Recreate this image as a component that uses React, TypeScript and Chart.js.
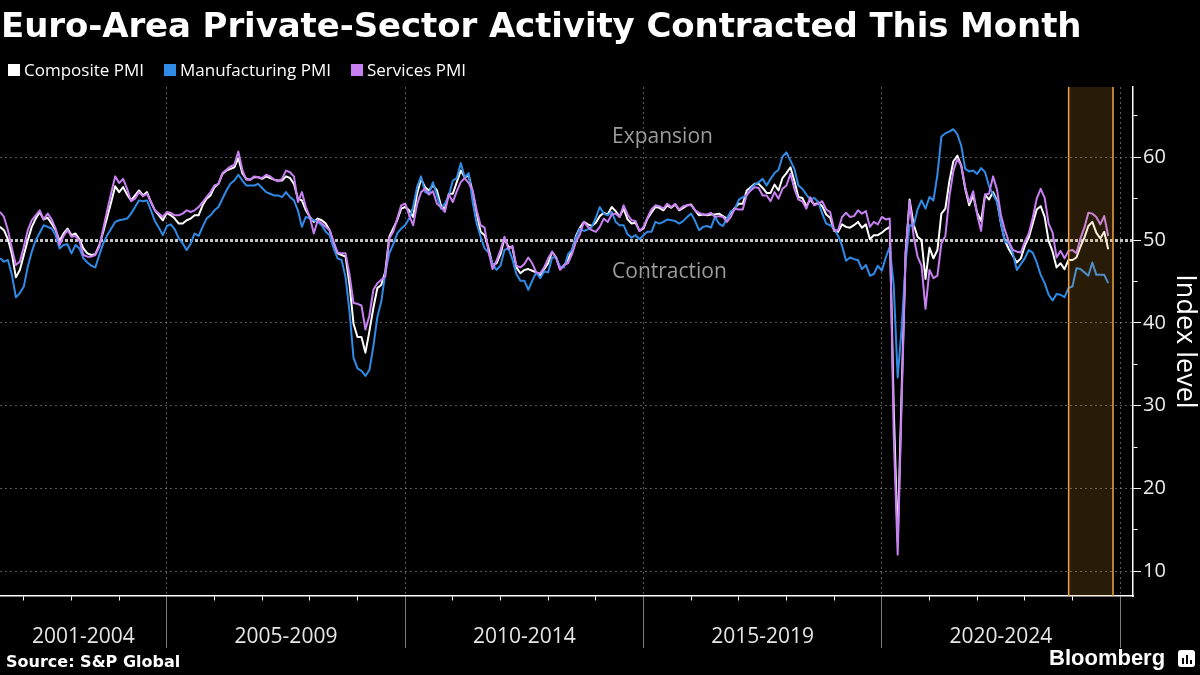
import React, { useEffect, useRef } from "react";
import { Chart, registerables } from "chart.js";

Chart.register(...registerables);

// Monthly (month-end) observations, June 2001 – September 2024
const FIRST_YEAR = 2001;
const FIRST_MONTH = 6;

const compositePMI: number[] = [
  /* 2001 Jun-Dec */ 51.6, 51.2, 50.1, 48.3, 45.5, 46.4, 48.2,
  /* 2002 */ 50.0, 51.6, 52.6, 53.4, 52.5, 52.7, 52.0, 51.2, 49.9, 50.8, 51.4, 50.6,
  /* 2003 */ 50.8, 50.1, 49.0, 48.4, 48.2, 48.3, 49.4, 51.0, 52.8, 54.6, 56.5, 55.8,
  /* 2004 */ 56.4, 55.5, 54.8, 55.4, 56.0, 55.4, 55.8, 54.6, 53.6, 53.0, 52.4, 53.3,
  /* 2005 */ 53.0, 52.6, 52.0, 52.0, 52.4, 52.6, 53.0, 53.0, 54.2, 55.0, 55.4, 56.4,
  /* 2006 */ 56.8, 58.0, 58.4, 58.6, 58.8, 59.9, 58.1, 57.4, 57.3, 57.6, 57.6, 57.4,
  /* 2007 */ 57.7, 57.5, 57.3, 57.2, 57.2, 57.7, 57.5, 56.8, 55.0, 54.8, 53.6, 52.8,
  /* 2008 */ 52.2, 52.6, 52.4, 52.0, 51.2, 49.6, 48.4, 48.2, 48.0, 44.6, 39.9, 38.3,
  /* 2009 */ 38.3, 36.4, 39.0, 41.8, 44.2, 44.6, 46.2, 50.4, 51.4, 52.4, 53.8, 54.0,
  /* 2010 */ 53.6, 52.8, 55.6, 57.4, 56.4, 56.0, 56.6, 56.0, 54.2, 53.8, 55.6, 55.6,
  /* 2011 */ 57.0, 58.4, 57.6, 57.8, 55.8, 53.2, 51.0, 50.6, 49.0, 47.0, 47.2, 48.3,
  /* 2012 */ 50.2, 49.2, 49.1, 46.7, 46.0, 46.4, 46.5, 46.3, 46.1, 45.7, 46.5, 47.2,
  /* 2013 */ 48.6, 47.9, 46.5, 46.9, 47.7, 48.7, 50.5, 51.5, 52.2, 51.9, 51.7, 52.1,
  /* 2014 */ 52.9, 53.3, 53.1, 54.0, 53.5, 52.8, 53.8, 52.5, 52.0, 52.1, 51.1, 51.4,
  /* 2015 */ 52.6, 53.3, 54.0, 53.9, 53.6, 54.2, 53.9, 54.3, 53.6, 53.9, 54.2, 54.3,
  /* 2016 */ 53.6, 53.0, 53.1, 53.0, 53.1, 53.1, 53.2, 52.9, 52.6, 53.3, 53.9, 54.4,
  /* 2017 */ 54.4, 56.0, 56.4, 56.8, 56.8, 56.3, 55.7, 55.7, 56.7, 56.0, 57.5, 58.1,
  /* 2018 */ 58.8, 57.1, 55.2, 55.1, 54.1, 54.9, 54.3, 54.5, 54.1, 53.1, 52.7, 51.1,
  /* 2019 */ 51.0, 51.9, 51.6, 51.5, 51.8, 52.2, 51.5, 51.9, 50.1, 50.6, 50.6, 50.9,
  /* 2020 */ 51.3, 51.6, 29.7, 13.6, 31.9, 48.5, 54.9, 51.9, 50.4, 50.0, 45.3, 49.1,
  /* 2021 */ 47.8, 48.8, 53.2, 53.8, 57.1, 59.5, 60.2, 59.0, 56.2, 54.2, 55.4, 53.3,
  /* 2022 */ 52.3, 55.5, 54.9, 55.8, 54.8, 52.0, 49.9, 48.9, 48.1, 47.3, 47.8, 49.3,
  /* 2023 */ 50.3, 52.0, 53.7, 54.1, 52.8, 49.9, 48.6, 46.7, 47.2, 46.5, 47.6, 47.6,
  /* 2024 Jan-Sep */ 47.9, 49.2, 50.3, 51.7, 52.2, 50.9, 50.2, 51.0, 48.9,
];

const manufacturingPMI: number[] = [
  /* 2001 Jun-Dec */ 47.8, 47.4, 47.6, 45.8, 43.1, 43.6, 44.4,
  /* 2002 */ 46.8, 48.6, 50.0, 50.9, 51.8, 51.6, 51.4, 50.6, 49.0, 49.4, 49.5, 48.4,
  /* 2003 */ 49.4, 49.0, 47.8, 47.3, 46.9, 46.7, 48.2, 49.6, 50.6, 51.4, 52.2, 52.4,
  /* 2004 */ 52.5, 52.6, 53.2, 54.0, 54.8, 54.7, 54.8, 53.6, 52.3, 51.5, 50.6, 51.7,
  /* 2005 */ 51.9, 51.3, 50.2, 49.6, 48.8, 49.6, 50.8, 50.5, 51.6, 52.6, 53.0, 53.6,
  /* 2006 */ 54.0, 55.0, 56.0, 56.8, 57.2, 57.9, 57.2, 56.6, 56.6, 56.6, 56.8, 56.3,
  /* 2007 */ 55.8, 55.6, 55.4, 55.4, 55.2, 55.8, 55.2, 54.8, 53.6, 51.6, 52.8, 52.6,
  /* 2008 */ 52.4, 52.2, 51.8, 51.0, 50.6, 49.0, 47.8, 47.6, 45.5, 41.3, 35.8, 34.5,
  /* 2009 */ 34.2, 33.6, 34.3, 37.2, 40.7, 42.6, 46.0, 48.4, 49.5, 50.8, 51.4, 51.8,
  /* 2010 */ 52.6, 54.0, 56.4, 57.7, 55.8, 55.6, 57.0, 55.4, 53.8, 54.4, 55.4, 57.2,
  /* 2011 */ 57.5, 59.3, 57.6, 58.1, 54.6, 52.0, 50.4, 49.0, 48.5, 47.1, 46.4, 46.9,
  /* 2012 */ 48.8, 49.0, 47.7, 45.9, 45.1, 45.1, 44.0, 45.1, 46.1, 45.4, 46.2, 46.1,
  /* 2013 */ 47.9, 47.9, 46.8, 46.7, 48.3, 48.8, 50.3, 51.4, 51.1, 51.3, 51.6, 52.7,
  /* 2014 */ 54.0, 53.2, 53.0, 53.4, 52.2, 51.8, 51.8, 50.7, 50.3, 50.6, 50.1, 50.6,
  /* 2015 */ 51.0, 51.0, 52.2, 52.0, 52.2, 52.5, 52.4, 52.3, 52.0, 52.3, 52.8, 53.2,
  /* 2016 */ 52.3, 51.2, 51.6, 51.7, 51.5, 52.8, 52.0, 51.7, 52.6, 53.5, 53.7, 54.9,
  /* 2017 */ 55.2, 55.4, 56.2, 56.7, 57.0, 57.4, 56.6, 57.4, 58.1, 58.5, 60.1, 60.6,
  /* 2018 */ 59.6, 58.6, 56.6, 56.2, 55.5, 54.9, 55.1, 54.6, 53.2, 52.0, 51.8, 51.4,
  /* 2019 */ 50.5, 49.3, 47.5, 47.9, 47.7, 47.6, 46.5, 47.0, 45.7, 45.9, 46.9, 46.3,
  /* 2020 */ 47.9, 49.2, 44.5, 33.4, 39.4, 47.4, 51.8, 51.7, 53.7, 54.8, 53.8, 55.2,
  /* 2021 */ 54.8, 57.9, 62.5, 62.9, 63.1, 63.4, 62.8, 61.4, 58.6, 58.3, 58.4, 58.0,
  /* 2022 */ 58.7, 58.2, 56.5, 55.5, 54.6, 52.1, 49.8, 49.6, 48.4, 46.4, 47.1, 47.8,
  /* 2023 */ 48.8, 48.5, 47.3, 45.8, 44.8, 43.4, 42.7, 43.5, 43.4, 43.1, 44.2, 44.4,
  /* 2024 Jan-Sep */ 46.6, 46.5, 46.1, 45.7, 47.3, 45.8, 45.8, 45.8, 44.8,
];

const servicesPMI: number[] = [
  /* 2001 Jun-Dec */ 53.4, 52.8, 51.2, 49.0, 47.0, 47.4, 49.2,
  /* 2002 */ 51.2, 52.4, 53.0, 53.6, 52.5, 53.2, 52.5, 51.4, 49.4, 50.5, 51.2, 50.4,
  /* 2003 */ 50.5, 49.9, 48.2, 48.0, 48.0, 48.2, 49.2, 51.4, 53.6, 55.7, 57.7, 56.9,
  /* 2004 */ 57.4, 56.2, 54.7, 55.0, 55.8, 55.3, 55.6, 54.6, 53.6, 53.2, 52.8, 53.4,
  /* 2005 */ 53.3, 53.0, 53.0, 53.2, 53.6, 53.4, 53.6, 54.0, 54.6, 55.2, 55.8, 56.6,
  /* 2006 */ 56.8, 58.1, 58.5, 58.9, 59.1, 60.7, 58.5, 57.3, 57.3, 57.7, 57.6, 57.5,
  /* 2007 */ 57.9, 57.7, 57.3, 57.1, 57.4, 58.4, 58.2, 57.7, 54.6, 55.8, 54.0, 52.8,
  /* 2008 */ 50.8, 52.4, 52.0, 51.6, 51.2, 49.8, 48.5, 48.4, 48.4, 45.8, 42.4, 42.3,
  /* 2009 */ 42.1, 39.2, 40.9, 44.0, 44.8, 45.2, 45.6, 50.2, 51.0, 52.6, 54.2, 54.4,
  /* 2010 */ 53.0, 51.8, 54.3, 55.8, 56.2, 55.5, 55.9, 54.4, 54.0, 53.4, 55.5, 54.6,
  /* 2011 */ 55.9, 57.0, 57.5, 56.9, 56.0, 53.6, 51.8, 51.5, 48.6, 46.5, 47.5, 48.8,
  /* 2012 */ 50.4, 48.9, 49.3, 46.9, 46.7, 47.1, 47.9, 47.2, 46.1, 46.0, 46.7, 47.8,
  /* 2013 */ 48.6, 47.9, 46.4, 47.0, 47.2, 48.3, 49.8, 50.7, 52.2, 51.6, 51.2, 51.0,
  /* 2014 */ 51.6, 52.6, 52.2, 53.1, 53.2, 52.8, 54.2, 53.1, 52.4, 52.3, 51.1, 51.6,
  /* 2015 */ 52.7, 53.7, 54.2, 54.1, 53.8, 54.4, 54.0, 54.4, 53.7, 54.1, 54.2, 54.2,
  /* 2016 */ 53.6, 53.3, 53.1, 53.1, 53.3, 52.8, 52.9, 52.8, 52.2, 52.8, 53.8, 53.7,
  /* 2017 */ 53.7, 55.5, 56.0, 56.4, 56.3, 55.4, 55.4, 54.7, 55.8, 55.0, 56.2, 56.6,
  /* 2018 */ 58.0, 56.2, 54.9, 54.7, 53.8, 55.2, 54.2, 54.4, 54.7, 53.7, 53.4, 51.2,
  /* 2019 */ 51.2, 52.8, 53.3, 52.8, 52.9, 53.6, 53.2, 53.5, 51.6, 52.2, 51.9, 52.8,
  /* 2020 */ 52.5, 52.6, 26.4, 12.0, 30.5, 48.3, 54.7, 50.5, 48.0, 46.9, 41.7, 46.4,
  /* 2021 */ 45.4, 45.7, 49.6, 50.5, 55.2, 58.3, 59.8, 59.0, 56.4, 54.6, 55.9, 53.1,
  /* 2022 */ 51.1, 55.5, 55.6, 57.7, 56.1, 53.0, 51.2, 49.8, 48.8, 48.6, 48.5, 49.8,
  /* 2023 */ 50.8, 52.7, 55.0, 56.2, 55.1, 52.0, 50.9, 47.9, 48.7, 47.8, 48.7, 48.8,
  /* 2024 Jan-Sep */ 48.4, 50.2, 51.5, 53.3, 53.2, 52.8, 51.9, 52.9, 50.5,
];

const seriesNames = ["Composite PMI", "Manufacturing PMI", "Services PMI"];
const seriesColors = ["#ffffff", "#2f8be6", "#c77ff2"];

const periodLabels = ["2001-2004", "2005-2009", "2010-2014", "2015-2019", "2020-2024"];
const periodStarts = [2001.5, 2005, 2010, 2015, 2020];
const periodEnds = [2005, 2010, 2015, 2020, 2025];
const yearTicks = [
  2002, 2003, 2004, 2005, 2006, 2007, 2008, 2009, 2010, 2011, 2012, 2013,
  2014, 2015, 2016, 2017, 2018, 2019, 2020, 2021, 2022, 2023, 2024, 2025,
];
const yTickValues = [10, 15, 20, 25, 30, 35, 40, 45, 50, 55, 60, 65];
const highlightRange = [2023.92, 2024.85];
const zoneLabels = [
  { text: "Expansion", x: 2014.34, y: 62.45 },
  { text: "Contraction", x: 2014.34, y: 46.15 },
];

const X_MIN = 2001.5;
const X_MAX = 2025.27;
const Y_MIN = 7;
const Y_MAX = 68.5;

const near = (a: number, b: number) => Math.abs(a - b) < 1e-6;
const labelCenters = periodStarts.map((s, k) => (s + periodEnds[k]) / 2);
const isBound = (v: number) => periodEnds.some((b) => near(b, v));
const isYear = (v: number) => yearTicks.some((b) => near(b, v));

export default function App() {
  const canvasRef = useRef<HTMLCanvasElement | null>(null);

  useEffect(() => {
    const canvas = canvasRef.current;
    if (!canvas) return;

    const toPoints = (vals: number[]) =>
      vals.map((v, i) => ({ x: FIRST_YEAR + (FIRST_MONTH + i) / 12, y: v }));

    const allSeries = [compositePMI, manufacturingPMI, servicesPMI];
    const datasets = allSeries.map((vals, k) => ({
      label: seriesNames[k],
      data: toPoints(vals),
      borderColor: seriesColors[k],
      backgroundColor: seriesColors[k],
      borderWidth: 2,
      pointRadius: 0,
      tension: 0,
      borderJoinStyle: "round" as const,
      order: 3 - k,
    }));

    const overlayPlugin = {
      id: "overlay",
      afterDatasetsDraw(chart: any) {
        const { ctx, chartArea, scales } = chart;
        const xs = scales.x;
        const ys = scales.y;
        const l = xs.getPixelForValue(highlightRange[0]);
        const r = xs.getPixelForValue(highlightRange[1]);
        ctx.save();
        ctx.fillStyle = "rgba(240,160,50,0.17)";
        ctx.fillRect(l, chartArea.top, r - l, chartArea.bottom - chartArea.top);
        ctx.strokeStyle = "#f0a440";
        ctx.lineWidth = 1.5;
        ctx.beginPath();
        ctx.moveTo(l, chartArea.top);
        ctx.lineTo(l, chartArea.bottom);
        ctx.moveTo(r, chartArea.top);
        ctx.lineTo(r, chartArea.bottom);
        ctx.stroke();
        ctx.fillStyle = "#9c9c9c";
        ctx.font = '21px "Open Sans"';
        ctx.textAlign = "left";
        ctx.textBaseline = "middle";
        zoneLabels.forEach((z) => {
          ctx.fillText(z.text, xs.getPixelForValue(z.x), ys.getPixelForValue(z.y));
        });
        ctx.restore();
      },
    };

    const xTickValues = [...yearTicks, ...labelCenters].sort((a, b) => a - b);

    const chart = new Chart(canvas, {
      type: "line",
      data: { datasets },
      plugins: [overlayPlugin],
      options: {
        animation: false,
        responsive: false,
        events: [],
        layout: { padding: { top: 87, left: 0, right: 0, bottom: 0 } },
        plugins: {
          legend: { display: false },
          tooltip: { enabled: false },
        },
        scales: {
          x: {
            type: "linear",
            position: "bottom",
            min: X_MIN,
            max: X_MAX,
            afterBuildTicks: (scale: any) => {
              scale.ticks = xTickValues.map((v) => ({ value: v }));
            },
            afterFit: (scale: any) => {
              scale.height = 79;
            },
            ticks: {
              autoSkip: false,
              maxRotation: 0,
              minRotation: 0,
              padding: -24,
              color: "#e6e6e6",
              font: { family: "Open Sans", size: 21 },
              callback: (value: any) => {
                const k = labelCenters.findIndex((c) => near(c, Number(value)));
                return k >= 0 ? periodLabels[k] : "";
              },
            },
            grid: {
              drawOnChartArea: true,
              drawTicks: true,
              tickLength: 52,
              lineWidth: 1,
              tickWidth: 1,
              color: (ctx: any) =>
                ctx.tick && isBound(ctx.tick.value) ? "rgba(200,200,200,0.45)" : "rgba(0,0,0,0)",
              tickColor: (ctx: any) => {
                if (!ctx.tick) return "rgba(0,0,0,0)";
                const v = ctx.tick.value;
                if (isBound(v)) return "#7c7c7c";
                if (isYear(v)) return "#ffffff";
                return "rgba(0,0,0,0)";
              },
              tickBorderDash: (ctx: any) =>
                ctx.tick && isBound(ctx.tick.value) ? [] : [4, 200],
            },
            border: { display: true, color: "#ffffff", width: 1.5, dash: [2, 3] },
          },
          y: {
            type: "linear",
            position: "right",
            min: Y_MIN,
            max: Y_MAX,
            afterBuildTicks: (scale: any) => {
              scale.ticks = yTickValues.map((v) => ({ value: v }));
            },
            afterFit: (scale: any) => {
              scale.width = 67;
            },
            ticks: {
              padding: 2,
              color: "#ececec",
              font: { family: "Open Sans", size: 20 },
              callback: (value: any) => (Number(value) % 10 === 0 ? String(value) : ""),
            },
            grid: {
              tickLength: 8,
              tickWidth: 1,
              tickColor: "#ffffff",
              color: (ctx: any) => {
                if (!ctx.tick) return "rgba(0,0,0,0)";
                const v = ctx.tick.value;
                if (v === 50) return "rgba(205,205,205,0.95)";
                if (v % 10 === 0) return "rgba(200,200,200,0.45)";
                return "rgba(0,0,0,0)";
              },
              lineWidth: (ctx: any) => (ctx.tick && ctx.tick.value === 50 ? 3 : 1),
              tickBorderDash: (ctx: any) =>
                ctx.tick && ctx.tick.value % 10 !== 0 ? [4, 200] : [],
            },
            border: {
              display: true,
              color: "#ffffff",
              width: 1.5,
              dash: (ctx: any) => (ctx.tick && ctx.tick.value === 50 ? [3, 2] : [2, 3]),
            },
            title: {
              display: true,
              text: "Index level",
              color: "#ffffff",
              font: { family: "Open Sans", size: 27 },
              padding: { top: -1, bottom: 0 },
            },
          },
        },
      },
    } as any);

    return () => chart.destroy();
  }, []);

  const legendX = [8, 164, 351];

  return (
    <div
      style={{
        position: "fixed",
        left: 0,
        top: 0,
        width: 1200,
        height: 675,
        background: "#000000",
        overflow: "hidden",
      }}
    >
      <canvas
        ref={canvasRef}
        width={1200}
        height={675}
        style={{ position: "absolute", left: 0, top: 0, width: 1200, height: 675, display: "block" }}
      />
      <div
        style={{
          position: "absolute",
          left: 1,
          top: 8,
          fontFamily: '"DejaVu Sans", sans-serif',
          fontWeight: 700,
          fontSize: 34,
          lineHeight: "34px",
          letterSpacing: "-0.1px",
          color: "#ffffff",
          whiteSpace: "nowrap",
        }}
      >
        Euro-Area Private-Sector Activity Contracted This Month
      </div>
      {seriesNames.map((name, k) => (
        <div
          key={name}
          style={{
            position: "absolute",
            left: legendX[k],
            top: 61,
            height: 17,
            display: "flex",
            alignItems: "center",
            fontFamily: '"Open Sans", sans-serif',
            fontSize: 17,
            lineHeight: "17px",
            color: "#ffffff",
            whiteSpace: "nowrap",
          }}
        >
          <span
            style={{
              display: "inline-block",
              width: 12,
              height: 12,
              background: seriesColors[k],
              marginRight: 4,
            }}
          />
          {name}
        </div>
      ))}
      <div
        style={{
          position: "absolute",
          left: 6,
          top: 654,
          fontFamily: '"DejaVu Sans", sans-serif',
          fontWeight: 700,
          fontSize: 16,
          lineHeight: "16px",
          color: "#ffffff",
          whiteSpace: "nowrap",
        }}
      >
        Source: S&amp;P Global
      </div>
      <div
        style={{
          position: "absolute",
          left: 1049,
          top: 647,
          fontFamily: '"Liberation Sans", Arial, sans-serif',
          fontWeight: 700,
          fontSize: 22,
          lineHeight: "22px",
          color: "#ffffff",
          whiteSpace: "nowrap",
        }}
      >
        Bloomberg
      </div>
      <div
        style={{
          position: "absolute",
          left: 1178,
          top: 650,
          width: 17,
          height: 17,
          background: "#ffffff",
          borderRadius: 3,
          display: "flex",
          alignItems: "flex-end",
          justifyContent: "center",
          gap: 2,
          paddingBottom: 3,
          boxSizing: "border-box",
        }}
      >
        <span style={{ width: 2, height: 6, background: "#000" }} />
        <span style={{ width: 2, height: 9, background: "#000" }} />
        <span style={{ width: 2, height: 4, background: "#000" }} />
      </div>
    </div>
  );
}
